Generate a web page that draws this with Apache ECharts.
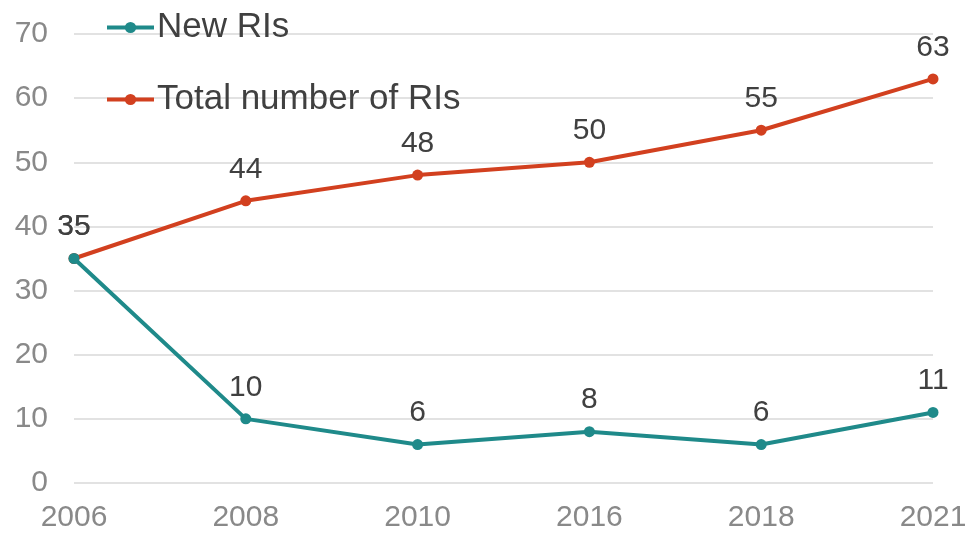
<!DOCTYPE html>
<html><head><meta charset="utf-8">
<script src="https://cdn.jsdelivr.net/npm/echarts@6/dist/echarts.min.js"></script>
<style>html,body{margin:0;padding:0;background:#fff}#c{width:966px;height:535px}</style>
</head><body><div id="c"></div>
<script>
const years = ['2006','2008','2010','2016','2018','2021'];
const newRIs = [35,10,6,8,6,11];
const totalRIs = [35,44,48,50,55,63];
const yTicks = [0,10,20,30,40,50,60,70];

const chart = echarts.init(document.getElementById('c'));
const font = 'Liberation Sans, Arial, sans-serif';
function ser(name, data, color){
  return {
    name, type:'line', data,
    symbol:'circle', symbolSize:11,
    lineStyle:{width:4,color}, itemStyle:{color},
    label:{show:true, position:'top', distance:11, color:'#404040', fontSize:30, fontFamily:font},
    z: name==='New RIs'?3:2
  };
}
chart.setOption({
  animation:false,
  grid:{left:74,right:33,top:34,bottom:52,containLabel:false,outerBoundsMode:'none'},
  legend:{
    orient:'vertical', left:100, top:5, itemWidth:47, itemHeight:14, itemGap:37,
    lineStyle:{width:4},
    textStyle:{color:'#404040', fontSize:35, fontFamily:font, padding:[0,0,0,-2]},
    data:['New RIs','Total number of RIs']
  },
  xAxis:{
    type:'category', data:years, boundaryGap:false,
    axisLine:{show:false}, axisTick:{show:false},
    axisLabel:{color:'#898989', fontSize:30, fontFamily:font, margin:20}
  },
  yAxis:{
    type:'value', min:yTicks[0], max:yTicks[yTicks.length-1], interval:10,
    axisLine:{show:false}, axisTick:{show:false},
    splitLine:{lineStyle:{color:'#e2e2e2', width:2}},
    axisLabel:{color:'#898989', fontSize:30, fontFamily:font, margin:26}
  },
  series:[ser('New RIs', newRIs, '#1f8a8a'), ser('Total number of RIs', totalRIs, '#d2401f')]
});
</script></body></html>
